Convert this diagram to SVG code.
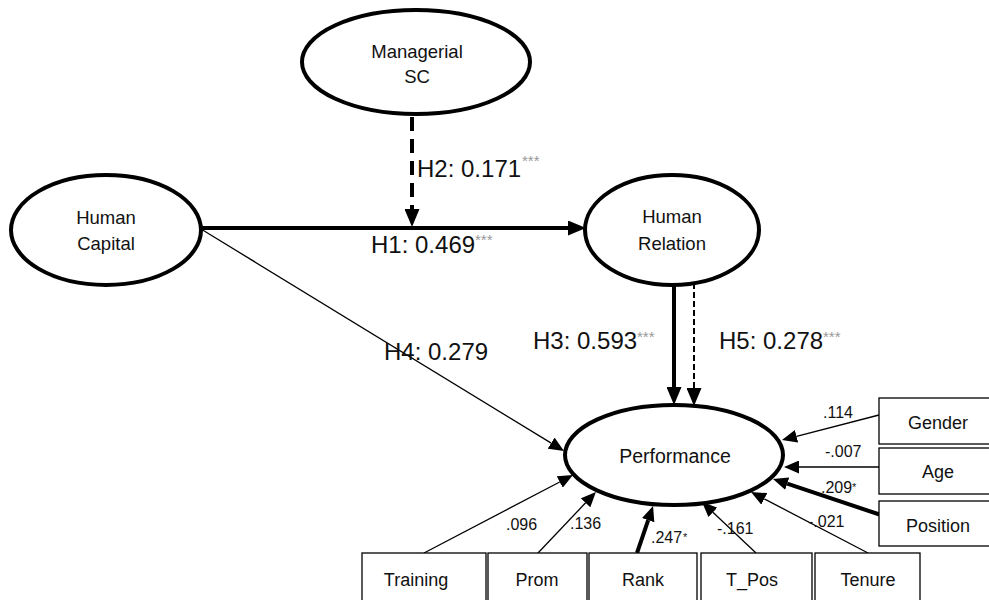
<svg xmlns="http://www.w3.org/2000/svg" width="989" height="600" viewBox="0 0 989 600">
<style>
  .ell { fill: #fff; stroke: #000; stroke-width: 4; }
  .box { fill: #fff; stroke: #000; stroke-width: 1.3; }
  .nt { font-family: "Liberation Sans", Arial, sans-serif; font-size: 18.5px; fill: #111; text-anchor: middle; }
  .bt { font-family: "Liberation Sans", Arial, sans-serif; font-size: 18px; fill: #111; text-anchor: middle; }
  .hl { font-family: "Liberation Sans", Arial, sans-serif; font-size: 24px; fill: #111; }
  .hs { font-family: "Liberation Sans", Arial, sans-serif; font-size: 15px; fill: #999; }
  .sl { font-family: "Liberation Sans", Arial, sans-serif; font-size: 16px; fill: #111; }
  .ss { font-family: "Liberation Sans", Arial, sans-serif; font-size: 11px; fill: #111; }
  .thick { stroke: #000; stroke-width: 4; fill: none; }
  .thin { stroke: #000; stroke-width: 1.3; fill: none; }
  .dashbig { stroke: #000; stroke-width: 4; fill: none; stroke-dasharray: 14 8; }
  .dashsm { stroke: #000; stroke-width: 2; fill: none; stroke-dasharray: 6 3; }
</style>
<defs>
  <marker id="aL" markerUnits="userSpaceOnUse" markerWidth="18" markerHeight="15" refX="0" refY="7.5" orient="auto">
    <path d="M0,0 L18,7.5 L0,15 Z" fill="#000"/>
  </marker>
  <marker id="aS" markerUnits="userSpaceOnUse" markerWidth="15" markerHeight="13" refX="0" refY="6.5" orient="auto">
    <path d="M0,0 L15,6.5 L0,13 Z" fill="#000"/>
  </marker>
</defs>

<rect x="0" y="0" width="989" height="600" fill="#fff"/>

<g id="connectors">
  <line class="dashbig" x1="412" y1="117" x2="412" y2="209" marker-end="url(#aL)"/>
  <line class="thick" x1="201" y1="228" x2="568" y2="228" marker-end="url(#aL)"/>
  <line class="thick" x1="674" y1="285" x2="674" y2="387" marker-end="url(#aL)"/>
  <line class="dashsm" x1="694" y1="283" x2="694" y2="388" marker-end="url(#aL)"/>
  <line class="thin" x1="201" y1="229" x2="551.2" y2="443.1" marker-end="url(#aS)"/>
  <line class="thin" x1="424" y1="553" x2="559.7" y2="482" marker-end="url(#aS)"/>
  <line class="thin" x1="538" y1="553" x2="585.6" y2="502.8" marker-end="url(#aS)"/>
  <line class="thick" x1="637" y1="553" x2="648.2" y2="520.2" marker-end="url(#aS)"/>
  <line class="thin" x1="756" y1="553" x2="712.9" y2="512.3" marker-end="url(#aS)"/>
  <line class="thin" x1="868" y1="553" x2="764.3" y2="498.9" marker-end="url(#aS)"/>
  <line class="thin" x1="879" y1="415" x2="796.5" y2="436.3" marker-end="url(#aS)"/>
  <line class="thin" x1="879" y1="467" x2="799" y2="467" marker-end="url(#aS)"/>
  <line class="thick" x1="881" y1="515" x2="787.2" y2="483.7" marker-end="url(#aS)"/>
</g>

<g id="node-managerial-sc">
  <ellipse class="ell" cx="416" cy="62" rx="114" ry="52"/>
  <text class="nt" x="417" y="58">Managerial</text>
  <text class="nt" x="417" y="83">SC</text>
</g>
<g id="node-human-capital">
  <ellipse class="ell" cx="106" cy="230" rx="95" ry="55"/>
  <text class="nt" x="106" y="224">Human</text>
  <text class="nt" x="106" y="250">Capital</text>
</g>
<g id="node-human-relation">
  <ellipse class="ell" cx="672" cy="230" rx="87" ry="55"/>
  <text class="nt" x="672" y="223">Human</text>
  <text class="nt" x="672" y="250">Relation</text>
</g>
<g id="node-performance">
  <ellipse class="ell" cx="674" cy="455" rx="109" ry="50"/>
  <text class="nt" x="675" y="463" style="font-size:19.5px">Performance</text>
</g>

<g id="node-gender">
  <rect class="box" x="879" y="398" width="118" height="46"/>
  <text class="bt" x="938" y="429">Gender</text>
</g>
<g id="node-age">
  <rect class="box" x="879" y="448" width="118" height="46"/>
  <text class="bt" x="938" y="478">Age</text>
</g>
<g id="node-position">
  <rect class="box" x="879" y="501" width="118" height="45"/>
  <text class="bt" x="938" y="532">Position</text>
</g>
<g id="node-training">
  <rect class="box" x="362" y="553" width="124" height="60"/>
  <text class="bt" x="416" y="586">Training</text>
</g>
<g id="node-prom">
  <rect class="box" x="488" y="553" width="99" height="60"/>
  <text class="bt" x="537" y="586">Prom</text>
</g>
<g id="node-rank">
  <rect class="box" x="589" y="553" width="108" height="60"/>
  <text class="bt" x="643" y="586">Rank</text>
</g>
<g id="node-tpos">
  <rect class="box" x="701" y="553" width="111" height="60"/>
  <text class="bt" x="752" y="586">T_Pos</text>
</g>
<g id="node-tenure">
  <rect class="box" x="815" y="553" width="105" height="60"/>
  <text class="bt" x="868" y="586">Tenure</text>
</g>

<g id="labels">
  <text class="hl" x="417" y="177">H2: 0.171</text>
  <text class="hs" x="522" y="166">***</text>
  <text class="hl" x="371" y="253">H1: 0.469</text>
  <text class="hs" x="475" y="245">***</text>
  <text class="hl" x="533" y="349">H3: 0.593</text>
  <text class="hs" x="637" y="342">***</text>
  <text class="hl" x="719" y="349">H5: 0.278</text>
  <text class="hs" x="823" y="342">***</text>
  <text class="hl" x="384" y="360">H4: 0.279</text>

  <text class="sl" x="506" y="530">.096</text>
  <text class="sl" x="570" y="529">.136</text>
  <text class="sl" x="651" y="543">.247</text>
  <text class="ss" x="683" y="541">*</text>
  <text class="sl" x="717" y="534">-.161</text>
  <text class="sl" x="808" y="527">-.021</text>
  <text class="sl" x="823" y="418">.114</text>
  <text class="sl" x="825" y="457">-.007</text>
  <text class="sl" x="821" y="493">.209</text>
  <text class="ss" x="852" y="491">*</text>
</g>
</svg>
